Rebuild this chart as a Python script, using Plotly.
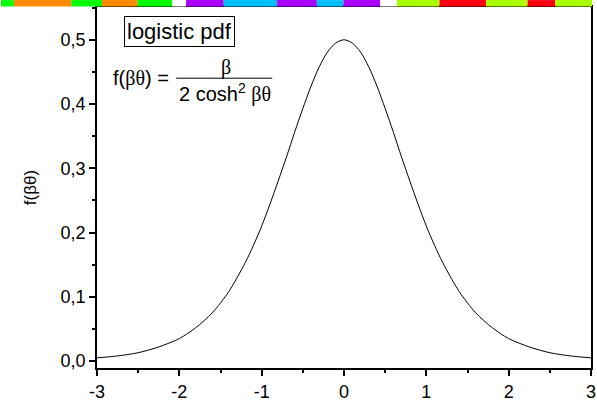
import plotly.graph_objects as go

# ---- data ----
theta = [-3.0, -2.75, -2.5, -2.25, -2.0, -1.8, -1.6, -1.4, -1.2, -1.1, -1.0, -0.9, -0.8, -0.7,
         -0.6, -0.5, -0.4, -0.3, -0.2, -0.1, 0.0, 0.1, 0.2, 0.3, 0.4, 0.5, 0.6, 0.7, 0.8, 0.9,
         1.0, 1.1, 1.2, 1.4, 1.6, 1.8, 2.0, 2.25, 2.5, 2.75, 3.0]
f_vals = [0.005, 0.008, 0.013, 0.022, 0.035, 0.052, 0.075, 0.108, 0.153, 0.180, 0.210, 0.244,
          0.280, 0.317, 0.356, 0.393, 0.428, 0.458, 0.481, 0.495, 0.500, 0.495, 0.481, 0.458,
          0.428, 0.393, 0.356, 0.317, 0.280, 0.244, 0.210, 0.180, 0.153, 0.108, 0.075, 0.052,
          0.035, 0.022, 0.013, 0.008, 0.005]
x_tick_vals = [-3, -2, -1, 0, 1, 2, 3]
x_tick_labels = ["-3", "-2", "-1", "0", "1", "2", "3"]
y_tick_vals = [0.0, 0.1, 0.2, 0.3, 0.4, 0.5]
y_tick_labels = ["0,0", "0,1", "0,2", "0,3", "0,4", "0,5"]

# decorative colour strip at the top (pixel start, pixel end, colour)
strip = [(0, 13, "#00ff00"), (13, 71, "#ff8c00"), (71, 102, "#00ff00"), (102, 138, "#ff8c00"),
         (138, 173, "#00ff00"), (173, 187, "#ffffff"), (187, 225, "#aa00ff"), (225, 279, "#00bfff"),
         (279, 319, "#aa00ff"), (319, 346, "#00bfff"), (346, 383, "#aa00ff"), (383, 400, "#ffffff"),
         (400, 443, "#aaff00"), (443, 490, "#ff0011"), (490, 532, "#aaff00"), (532, 560, "#ff0011"),
         (560, 597, "#aaff00")]

W, H = 597, 403
L, R, T, B = 97, 1, 7, 31
PW, PH = W - L - R, H - T - B

def px(xp):
    return (xp - L) / PW

def py(yp):
    return (H - B - yp) / PH

FONT = "Liberation Sans, Arial, sans-serif"
SERIF = "Liberation Serif, Times New Roman, serif"

fig = go.Figure()
fig.add_trace(go.Scatter(x=theta, y=f_vals, mode="lines",
                         line=dict(color="black", width=1, shape="spline", smoothing=0.8),
                         showlegend=False, hoverinfo="skip"))

shapes = []
for a, b, c in strip:
    shapes.append(dict(type="rect", xref="paper", yref="paper",
                       x0=px(a), x1=px(b), y0=py(6.5), y1=py(0),
                       fillcolor=c, line=dict(width=0), layer="above"))
# fraction bar
shapes.append(dict(type="line", xref="paper", yref="paper",
                   x0=px(177), x1=px(274), y0=py(79), y1=py(79),
                   line=dict(color="black", width=1)))

annotations = [
    dict(text="logistic pdf", xref="paper", yref="paper", x=px(180), y=py(32),
         xanchor="center", yanchor="middle", showarrow=False,
         font=dict(family=FONT, size=22, color="black"),
         bordercolor="black", borderwidth=1, borderpad=2, bgcolor="white"),
    dict(text="f(<span style='font-family:Liberation Serif'>βθ</span>) =", xref="paper", yref="paper",
         x=px(141), y=py(79), xanchor="center", yanchor="middle", showarrow=False,
         font=dict(family=FONT, size=20, color="black")),
    dict(text="β", xref="paper", yref="paper", x=px(227), y=py(68),
         xanchor="center", yanchor="middle", showarrow=False,
         font=dict(family=SERIF, size=20, color="black")),
    dict(text="2 cosh<sup>2</sup> <span style='font-family:Liberation Serif'>βθ</span>",
         xref="paper", yref="paper", x=px(226), y=py(94),
         xanchor="center", yanchor="middle", showarrow=False,
         font=dict(family=FONT, size=20, color="black")),
]

fig.update_layout(
    width=W, height=H,
    margin=dict(l=L, r=R, t=T, b=B, pad=0),
    paper_bgcolor="white", plot_bgcolor="white",
    font=dict(family=FONT, color="black"),
    shapes=shapes, annotations=annotations,
    xaxis=dict(range=[-3, 3], showgrid=False, zeroline=False,
               showline=True, linecolor="black", linewidth=1.8, mirror=True,
               ticks="outside", ticklen=6, tickwidth=1.5, tickcolor="black",
               tickvals=x_tick_vals, ticktext=x_tick_labels, ticklabeloverflow="allow",
               tickfont=dict(family=FONT, size=18, color="black"),
               minor=dict(ticks="outside", ticklen=3, tickwidth=1.5, tickcolor="black", dtick=0.5, tick0=0)),
    yaxis=dict(range=[-0.0108, 0.551], showgrid=False, zeroline=False,
               showline=True, linecolor="black", linewidth=1.8, mirror=True,
               ticks="outside", ticklen=6, tickwidth=1.5, tickcolor="black",
               tickvals=y_tick_vals, ticktext=y_tick_labels,
               tickfont=dict(family=FONT, size=18, color="black"),
               minor=dict(ticks="outside", ticklen=3, tickwidth=1.5, tickcolor="black", dtick=0.05, tick0=0),
               title=dict(text="f(βθ)", font=dict(family=FONT, size=17, color="black"), standoff=20)),
)

fig.write_html("out.html")
